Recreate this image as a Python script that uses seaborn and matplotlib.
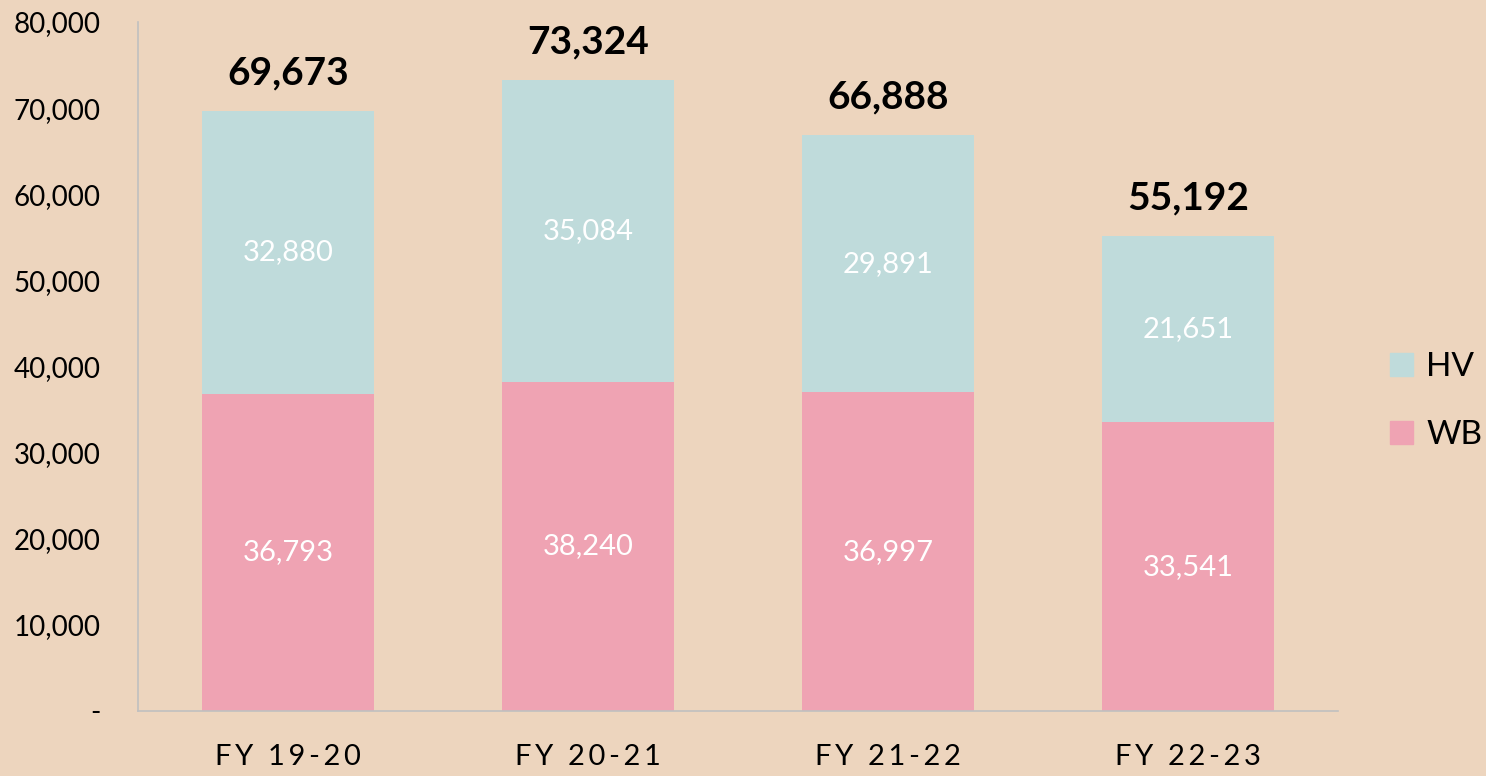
import pandas as pd
import numpy as np
import matplotlib.pyplot as plt
import seaborn as sns
from matplotlib.patches import Patch

# Chart data
years = ['FY 19-20', 'FY 20-21', 'FY 21-22', 'FY 22-23']
wb = [36793, 38240, 36997, 33541]
hv = [32880, 35084, 29891, 21651]

bg = '#EDD5BE'
hv_color = '#BFDBDB'
wb_color = '#EFA3B3'

sns.set_style('white')
plt.rcParams['font.family'] = ['Lato', 'DejaVu Sans']

df = pd.DataFrame({'year': years, 'WB': wb, 'HV': hv})
df['total'] = df['WB'] + df['HV']

fig = plt.figure(figsize=(14.86, 7.76), dpi=100, facecolor=bg)
ax = fig.add_axes([0.0929, 0.0838, 0.8075, 0.8878], facecolor=bg)

# stacked bars: total in HV colour, WB drawn over it
sns.barplot(data=df, x='year', y='total', color=hv_color, width=0.573,
            saturation=1, linewidth=0, ax=ax)
sns.barplot(data=df, x='year', y='WB', color=wb_color, width=0.573,
            saturation=1, linewidth=0, ax=ax)

for i, row in df.iterrows():
    ax.text(i, row['WB'] / 2, f"{row['WB']:,}", ha='center', va='center',
            color='white', fontsize=21)
    ax.text(i, row['WB'] + row['HV'] / 2, f"{row['HV']:,}", ha='center',
            va='center', color='white', fontsize=21)
    ax.annotate(f"{row['total']:,}", (i, row['total']), xytext=(0, 27),
                textcoords='offset points', ha='center', va='center',
                fontsize=28, fontweight='bold', color='black')

ax.set_xlim(-0.5, 3.5)
ax.set_ylim(0, 80000)
ax.set_yticks(np.arange(0, 80001, 10000))
ax.set_yticklabels(['-'] + [f'{v:,}' for v in range(10000, 80001, 10000)])
# spaced-out category labels like the original
ax.set_xticks(range(len(years)))
ax.set_xticklabels(['\u2009'.join(y) for y in years])
ax.set_xlabel('')
ax.set_ylabel('')
ax.tick_params(axis='y', length=0, pad=27, labelsize=20, labelcolor='black')
ax.tick_params(axis='x', length=0, pad=24, labelsize=21, labelcolor='black')

for s in ['top', 'right']:
    ax.spines[s].set_visible(False)
for s in ['left', 'bottom']:
    ax.spines[s].set_color('#C0C0C0')
    ax.spines[s].set_linewidth(1.2)

handles = [Patch(color=hv_color, label='HV'), Patch(color=wb_color, label='WB')]
fig.legend(handles=handles, loc='center left', bbox_to_anchor=(0.924, 0.483),
           frameon=False, fontsize=24, handlelength=0.7, handleheight=0.7,
           handletextpad=0.4, labelspacing=1.15, borderpad=0,
           labelcolor='black')

fig.savefig('out.png', dpi=100, facecolor=bg)
